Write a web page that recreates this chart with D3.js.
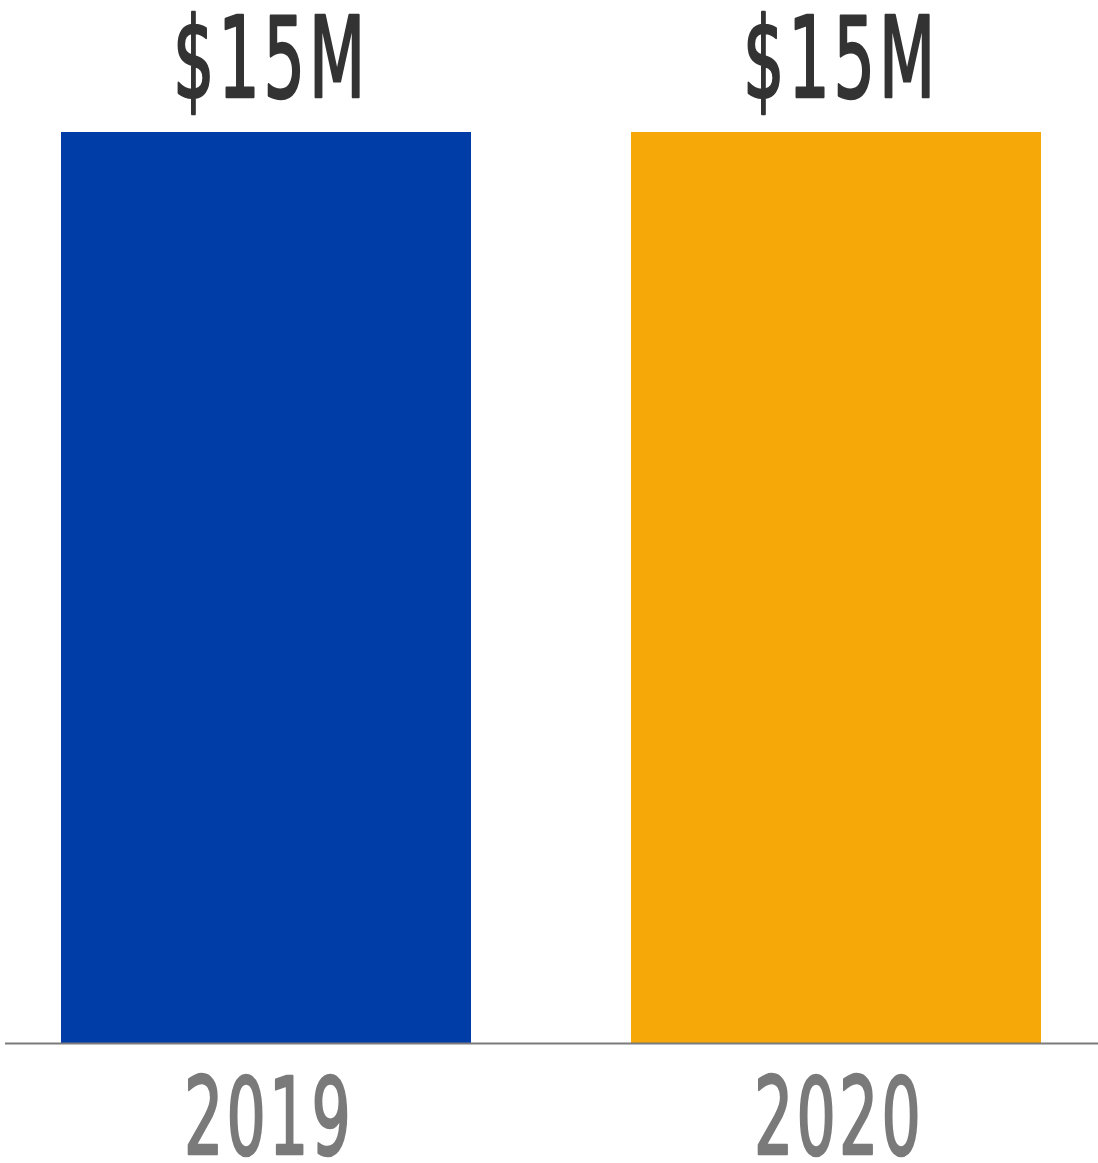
<!DOCTYPE html>
<html lang="en">
<head>
<meta charset="utf-8">
<title>$15M 2019 vs 2020</title>
<script src="https://d3js.org/d3.v7.min.js"></script>
<style>
  html, body { margin: 0; padding: 0; background: #fff; }
  svg { display: block; }
  text { font-family: 'DejaVu Sans Condensed', 'Liberation Sans Narrow', sans-serif; stroke-linejoin: round; }
</style>
</head>
<body>
<script>
// data
var years = ["2019", "2020"];
var values = [15, 15];
var valueLabels = ["$15M", "$15M"];
var barColors = ["#003da6", "#f5a808"];

var width = 1098, height = 1163;
var baseY = 1043, topY = 132;

var svg = d3.select("body").append("svg")
    .attr("width", width)
    .attr("height", height);

var x = d3.scaleBand()
    .domain(years)
    .range([61, 1041])
    .paddingInner(160 / 570)
    .paddingOuter(0);

var y = d3.scaleLinear()
    .domain([0, 15])
    .range([baseY, topY]);

// bars
svg.selectAll("rect.bar")
    .data(years)
    .enter().append("rect")
    .attr("class", "bar")
    .attr("x", function(d) { return x(d); })
    .attr("y", function(d, i) { return y(values[i]); })
    .attr("width", x.bandwidth())
    .attr("height", function(d, i) { return y(0) - y(values[i]); })
    .attr("fill", function(d, i) { return barColors[i]; });

// baseline
svg.append("line")
    .attr("x1", 5).attr("x2", width)
    .attr("y1", baseY + 0.5).attr("y2", baseY + 0.5)
    .attr("stroke", "#7b7b7b")
    .attr("stroke-width", 2);

// squeeze a label to a given width (condensed look)
function squeeze(sel, cx, cy, w) {
    sel.each(function() {
        var t = d3.select(this);
        var sx = w / this.getComputedTextLength();
        t.attr("transform", "translate(" + cx + "," + cy + ") scale(" + sx + ",1)");
    });
}

// value labels
svg.selectAll("text.val")
    .data(years)
    .enter().append("text")
    .attr("class", "val")
    .attr("text-anchor", "middle")
    .attr("font-size", 112)
    .attr("letter-spacing", 6)
    .attr("fill", "#333333")
    .attr("stroke", "#333333")
    .attr("stroke-width", 2.5)
    .text(function(d, i) { return valueLabels[i]; })
    .each(function(d, i) {
        squeeze(d3.select(this), x(d) + x.bandwidth() / 2 + 5, y(values[i]) - 35, 196);
    });

// year labels
svg.selectAll("text.year")
    .data(years)
    .enter().append("text")
    .attr("class", "year")
    .attr("text-anchor", "middle")
    .attr("font-size", 106)
    .attr("letter-spacing", 5)
    .attr("fill", "#7a7a7a")
    .attr("stroke", "#7a7a7a")
    .attr("stroke-width", 2.5)
    .text(function(d) { return d; })
    .each(function(d) {
        squeeze(d3.select(this), x(d) + x.bandwidth() / 2 + 3, 1154, 170);
    });
</script>
</body>
</html>
